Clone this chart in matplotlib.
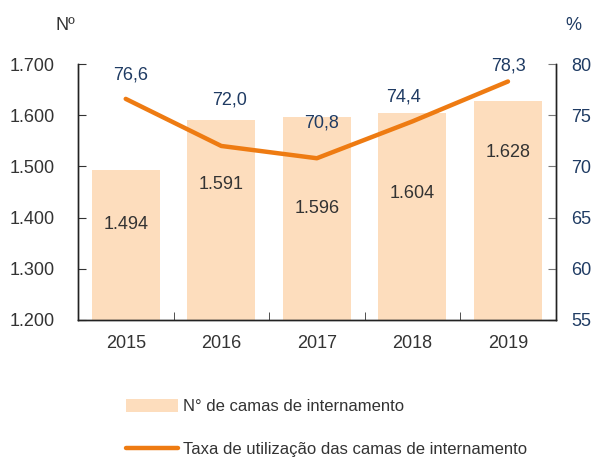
import matplotlib.pyplot as plt
import numpy as np

plt.rcParams['font.family'] = ['Liberation Sans', 'DejaVu Sans']

# data
years = ['2015', '2016', '2017', '2018', '2019']
camas = [1494, 1591, 1596, 1604, 1628]
taxa = [76.6, 72.0, 70.8, 74.4, 78.3]

bar_color = '#FDDDBD'
line_color = '#EE7B12'
blue = '#1F3B63'
grey = '#333333'

fig = plt.figure(figsize=(5.95, 4.57), dpi=100)
ax = fig.add_axes([0.131, 0.2998, 0.803, 0.560])
ax2 = ax.twinx()

x = np.arange(len(years))
bars = ax.bar(x, camas, 0.71, color=bar_color, label='N° de camas de internamento', zorder=1)
line, = ax2.plot(x, taxa, color=line_color, lw=3.2, solid_capstyle='round',
                 label='Taxa de utilização das camas de internamento')

ax.set_xlim(-0.5, len(years) - 0.5)
ax.set_ylim(1200, 1700)
ax.set_yticks(np.arange(1200, 1701, 100))
ax.set_yticklabels([f'{v:,}'.replace(',', '.') for v in range(1200, 1701, 100)])
ax2.set_ylim(55, 80)
ax2.set_yticks(np.arange(55, 81, 5))

fs = 13
ax.set_xticks(x)
ax.set_xticklabels(years)
ax.set_xticks(x[:-1] + 0.5, minor=True)
ax.tick_params(axis='x', which='major', length=0, pad=11, labelsize=fs, labelcolor=grey)
ax.tick_params(axis='x', which='minor', direction='in', length=6, color=grey)
ax.tick_params(axis='y', direction='in', length=6, pad=16.5, labelsize=fs, labelcolor=grey, color=grey)
ax2.tick_params(axis='y', direction='in', length=6, pad=11, labelsize=fs, labelcolor=blue, color='#777777')

for a in (ax, ax2):
    a.spines['top'].set_visible(False)
    for s in ('left', 'right', 'bottom'):
        a.spines[s].set_color('#222222')
        a.spines[s].set_linewidth(1.0)

# bar labels (value position offsets in data units)
bar_lab_off = [-107, -127, -179, -156, -100]
for xi, v, off in zip(x, camas, bar_lab_off):
    ax.text(xi, v + off, f'{v:,}'.replace(',', '.'), ha='center', va='center',
            fontsize=fs, color=grey)

# line labels (offsets in pixels)
line_lab_off = [(5, 24), (8, 46), (5, 35), (-9, 24), (1, 15)]
for xi, v, (dx, dy) in zip(x, taxa, line_lab_off):
    ax2.annotate(f'{v:.1f}'.replace('.', ','), (xi, v), xytext=(dx, dy),
                 textcoords='offset pixels', ha='center', va='center',
                 fontsize=fs, color=blue)

fig.text(65 / 595, 1 - 25 / 457, 'Nº', ha='center', va='center', fontsize=fs, color=grey)
fig.text(573 / 595, 1 - 25 / 457, '%', ha='center', va='center', fontsize=fs, color=blue)

leg = fig.legend(handles=[bars, line], loc='upper left',
                 bbox_to_anchor=(111 / 595, 1 - 384 / 457), frameon=False,
                 fontsize=12, handlelength=3.1, handleheight=0.8, handletextpad=0.3,
                 labelspacing=1.65, labelcolor=grey)

fig.savefig('out.png', dpi=100)
